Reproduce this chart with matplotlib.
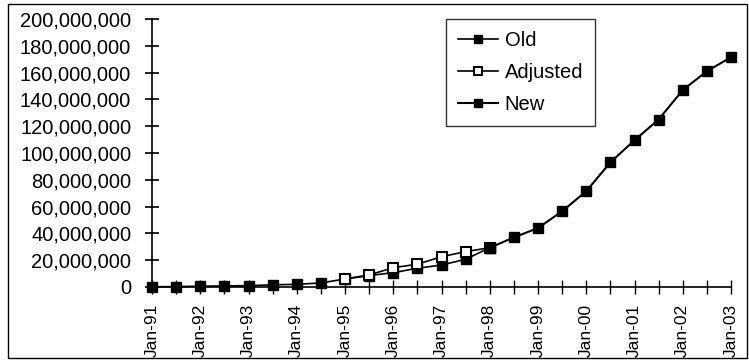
import matplotlib

matplotlib.use("Agg")
import matplotlib.pyplot as plt
from matplotlib.patches import Rectangle

DPI = 100
FIG_SIZE = (7.49, 3.60)

# half-year periods, Jan-91 .. Jan-03
periods = [
    "Jan-91", "Jul-91", "Jan-92", "Jul-92", "Jan-93", "Jul-93", "Jan-94",
    "Jul-94", "Jan-95", "Jul-95", "Jan-96", "Jul-96", "Jan-97", "Jul-97",
    "Jan-98", "Jul-98", "Jan-99", "Jul-99", "Jan-00", "Jul-00", "Jan-01",
    "Jul-01", "Jan-02", "Jul-02", "Jan-03",
]
year_labels = periods[::2]

old_values = [
    0.2e6, 0.3e6, 0.6e6, 0.8e6, 1.0e6, 1.6e6, 2.0e6, 3.0e6,
    6.0e6, 8.5e6, 10.7e6, 14.0e6, 16.4e6, 20.7e6, 29.3e6,
]
adjusted_start = 8
adjusted_values = [6.0e6, 9.0e6, 14.4e6, 17.0e6, 22.6e6, 26.4e6, 29.3e6]
new_start = 14
new_values = [
    29.3e6, 37.0e6, 44.0e6, 56.5e6, 71.5e6, 93.0e6, 109.5e6,
    125.0e6, 147.0e6, 161.0e6, 171.5e6,
]

plt.rcParams["font.family"] = ["Liberation Sans", "DejaVu Sans"]

fig = plt.figure(figsize=FIG_SIZE, dpi=DPI)
ax = fig.add_axes([152 / 749, 1 - 287 / 360, (731 - 152) / 749, (287 - 19) / 360])

x_all = list(range(len(periods)))
x_old = x_all[: len(old_values)]
x_adj = x_all[adjusted_start : adjusted_start + len(adjusted_values)]
x_new = x_all[new_start : new_start + len(new_values)]

ax.plot(x_old, old_values, color="black", linewidth=1.2, marker="s",
        markersize=7, markerfacecolor="black", label="Old")
ax.plot(x_adj, adjusted_values, color="black", linewidth=1.2, marker="s",
        markersize=7, markerfacecolor="white", markeredgewidth=1.5,
        label="Adjusted")
ax.plot(x_new, new_values, color="black", linewidth=1.5, marker="s",
        markersize=7, markerfacecolor="black", label="New")

ax.set_xlim(0, len(periods) - 1)
ax.set_ylim(0, 200e6)
ax.set_yticks(range(0, 200_000_001, 20_000_000))
ax.set_yticklabels([f"{v:,}" for v in range(0, 200_000_001, 20_000_000)],
                   fontsize=14.5)
ax.set_xticks(x_all[::2])
ax.set_xticks(x_all[1::2], minor=True)
ax.set_xticklabels(year_labels, rotation=90, fontsize=12.5)

for spine in ["top", "right"]:
    ax.spines[spine].set_visible(False)
ax.spines["left"].set_linewidth(1.2)
ax.spines["bottom"].set_linewidth(1.2)
ax.tick_params(axis="y", direction="inout", length=10, width=1.2, pad=10)
ax.tick_params(axis="x", which="both", direction="inout", length=10,
               width=1.0, pad=7)
for line in ax.lines:
    line.set_clip_on(False)

legend = ax.legend(loc="upper left", bbox_to_anchor=(0.508, 1.0),
                   borderaxespad=0, fontsize=14.5, frameon=True,
                   fancybox=False, edgecolor="black", handlelength=2.0,
                   handletextpad=0.3, labelspacing=0.65, borderpad=0.6,
                   markerscale=0.8)
legend.get_frame().set_linewidth(1.0)

fig.patches.append(Rectangle((8 / 749, 2 / 360), 739 / 749, 354 / 360,
                             transform=fig.transFigure, fill=False,
                             edgecolor="black", linewidth=1.0))

fig.savefig("out.png", dpi=DPI)
